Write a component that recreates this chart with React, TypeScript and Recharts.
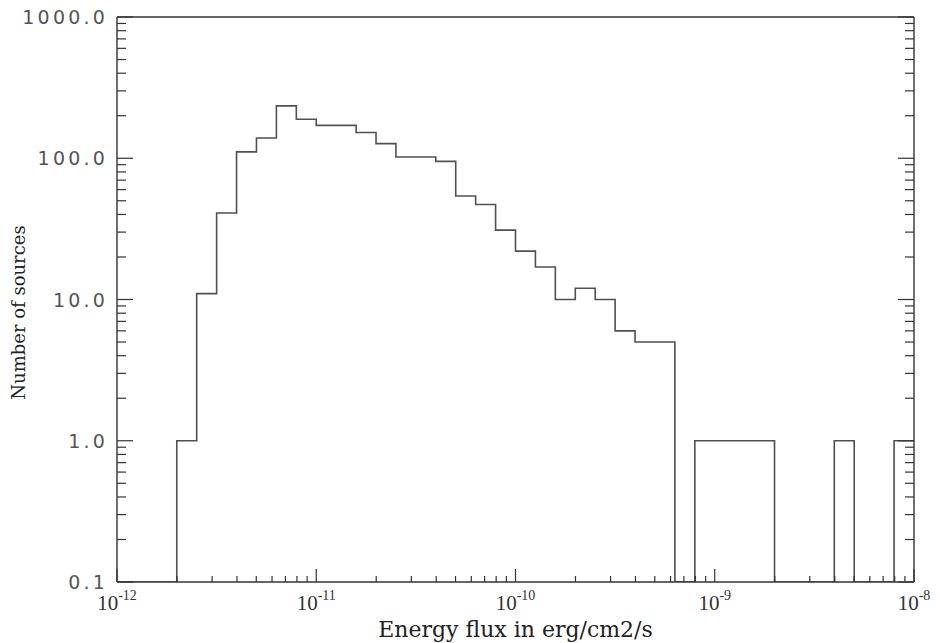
import React from 'react';
import { ComposedChart, Line, XAxis, YAxis } from 'recharts';

// Left edge of each histogram bin, as log10 of the energy flux (erg/cm2/s)
const binStartExponent = [
  -12.0, -11.9, -11.8, -11.7, -11.6, -11.5, -11.4, -11.3, -11.2, -11.1,
  -11.0, -10.9, -10.8, -10.7, -10.6, -10.5, -10.4, -10.3, -10.2, -10.1,
  -10.0, -9.9, -9.8, -9.7, -9.6, -9.5, -9.4, -9.3, -9.2, -9.1,
  -9.0, -8.9, -8.8, -8.7, -8.6, -8.5, -8.4, -8.3, -8.2, -8.1,
];
const lastBinEndExponent = -8.0;

// Number of sources per bin
const sourceCounts = [
  0, 0, 0, 1, 11, 41, 111, 139, 235, 189,
  171, 171, 152, 127, 102, 102, 95, 54, 47, 31,
  22, 17, 10, 12, 10, 6, 5, 5, 0, 1,
  1, 1, 1, 0, 0, 0, 1, 0, 0, 1,
];

const xMajorTicks = [1e-12, 1e-11, 1e-10, 1e-9, 1e-8];
const xTickExponentLabels = ['-12', '-11', '-10', '-9', '-8'];
const yMajorTicks = [0.1, 1, 10, 100, 1000];
const yTickLabels = ['0.1', '1.0', '10.0', '100.0', '1000.0'];
const minorMultipliers = [2, 3, 4, 5, 6, 7, 8, 9];

const X_DOMAIN: [number, number] = [1e-12, 1e-8];
const Y_DOMAIN: [number, number] = [0.1, 1000];
const EMPTY_BIN_LEVEL = 0.1; // empty bins sit on the lower axis of the log plot

const data = [
  ...binStartExponent.map((e, i) => ({
    flux: Math.pow(10, e),
    count: Math.max(sourceCounts[i], EMPTY_BIN_LEVEL),
  })),
  {
    flux: Math.pow(10, lastBinEndExponent),
    count: Math.max(sourceCounts[sourceCounts.length - 1], EMPTY_BIN_LEVEL),
  },
];

const xMinorTicks: number[] = [];
xMajorTicks.slice(0, -1).forEach((d) => minorMultipliers.forEach((m) => xMinorTicks.push(m * d)));
const yMinorTicks: number[] = [];
yMajorTicks.slice(0, -1).forEach((d) => minorMultipliers.forEach((m) => yMinorTicks.push(m * d)));

const xAllTicks = [...xMajorTicks, ...xMinorTicks];
const yAllTicks = [...yMajorTicks, ...yMinorTicks];

const AXIS = '#333';
const LINE = '#505050';
const X_MAJOR_LEN = 13;
const X_MINOR_LEN = 6;
const Y_MAJOR_LEN = 16;
const Y_MINOR_LEN = 9;

const BottomTick = (props: any) => {
  const { x, y, payload } = props;
  const idx = xMajorTicks.indexOf(payload.value);
  const major = idx >= 0;
  return (
    <g>
      <line x1={x} y1={y} x2={x} y2={y - (major ? X_MAJOR_LEN : X_MINOR_LEN)} stroke={AXIS} strokeWidth={1.2} />
      {major && (
        <text x={x} y={y + 28} textAnchor="middle" fill="#333" fontFamily="'Liberation Serif', serif" fontSize={21}>
          <tspan>10</tspan>
          <tspan dy={-10} fontSize={14}>{xTickExponentLabels[idx]}</tspan>
        </text>
      )}
    </g>
  );
};

const TopTick = (props: any) => {
  const { x, y, payload } = props;
  const major = xMajorTicks.indexOf(payload.value) >= 0;
  return <line x1={x} y1={y} x2={x} y2={y + (major ? X_MAJOR_LEN : X_MINOR_LEN)} stroke={AXIS} strokeWidth={1.2} />;
};

const LeftTick = (props: any) => {
  const { x, y, payload } = props;
  const idx = yMajorTicks.indexOf(payload.value);
  const major = idx >= 0;
  return (
    <g>
      <line x1={x} y1={y} x2={x + (major ? Y_MAJOR_LEN : Y_MINOR_LEN)} y2={y} stroke={AXIS} strokeWidth={1.2} />
      {major && (
        <text
          x={x - 9}
          y={y}
          dy={7}
          textAnchor="end"
          fill="#555"
          fontFamily="'DejaVu Sans', sans-serif"
          fontSize={19}
          letterSpacing={3.2}
        >
          {yTickLabels[idx]}
        </text>
      )}
    </g>
  );
};

const RightTick = (props: any) => {
  const { x, y, payload } = props;
  const major = yMajorTicks.indexOf(payload.value) >= 0;
  return <line x1={x} y1={y} x2={x - (major ? Y_MAJOR_LEN : Y_MINOR_LEN)} y2={y} stroke={AXIS} strokeWidth={1.2} />;
};

const XTitle = (props: any) => {
  const vb = props.viewBox || {};
  return (
    <text x={vb.x + vb.width / 2} y={vb.y + 55} textAnchor="middle" fill="#222" fontFamily="'DejaVu Serif', serif" fontSize={22}>
      Energy flux in erg/cm2/s
    </text>
  );
};

const YTitle = (props: any) => {
  const vb = props.viewBox || {};
  const cx = vb.x + 18;
  const cy = vb.y + vb.height / 2 + 13;
  return (
    <text
      x={cx}
      y={cy}
      transform={`rotate(-90 ${cx} ${cy})`}
      textAnchor="middle"
      dominantBaseline="central"
      fill="#222"
      fontFamily="'DejaVu Serif', serif"
      fontSize={18}
    >
      Number of sources
    </text>
  );
};

export default function App() {
  return (
    <div style={{ position: 'absolute', left: 0, top: 0, background: '#fff' }}>
      <ComposedChart width={940} height={643} data={data} margin={{ top: 17, right: 26, bottom: 0, left: 0 }}>
        <XAxis
          xAxisId="bottom"
          dataKey="flux"
          type="number"
          scale="log"
          domain={X_DOMAIN}
          allowDataOverflow
          ticks={xAllTicks}
          interval={0}
          tick={<BottomTick />}
          tickLine={false}
          tickSize={0}
          tickMargin={0}
          axisLine={{ stroke: AXIS, strokeWidth: 1.4 }}
          height={61}
          label={<XTitle />}
        />
        <XAxis
          xAxisId="top"
          orientation="top"
          mirror
          type="number"
          scale="log"
          domain={X_DOMAIN}
          allowDataOverflow
          ticks={xAllTicks}
          interval={0}
          tick={<TopTick />}
          tickLine={false}
          tickSize={0}
          tickMargin={0}
          axisLine={{ stroke: AXIS, strokeWidth: 1.4 }}
          height={1}
        />
        <YAxis
          yAxisId="left"
          type="number"
          scale="log"
          domain={Y_DOMAIN}
          allowDataOverflow
          ticks={yAllTicks}
          interval={0}
          tick={<LeftTick />}
          tickLine={false}
          tickSize={0}
          tickMargin={0}
          axisLine={{ stroke: AXIS, strokeWidth: 1.4 }}
          width={117}
          label={<YTitle />}
        />
        <YAxis
          yAxisId="right"
          orientation="right"
          mirror
          type="number"
          scale="log"
          domain={Y_DOMAIN}
          allowDataOverflow
          ticks={yAllTicks}
          interval={0}
          tick={<RightTick />}
          tickLine={false}
          tickSize={0}
          tickMargin={0}
          axisLine={{ stroke: AXIS, strokeWidth: 1.4 }}
          width={1}
        />
        <Line
          xAxisId="bottom"
          yAxisId="left"
          dataKey="count"
          type="stepAfter"
          stroke={LINE}
          strokeWidth={1.6}
          dot={false}
          activeDot={false}
          isAnimationActive={false}
        />
      </ComposedChart>
    </div>
  );
}
